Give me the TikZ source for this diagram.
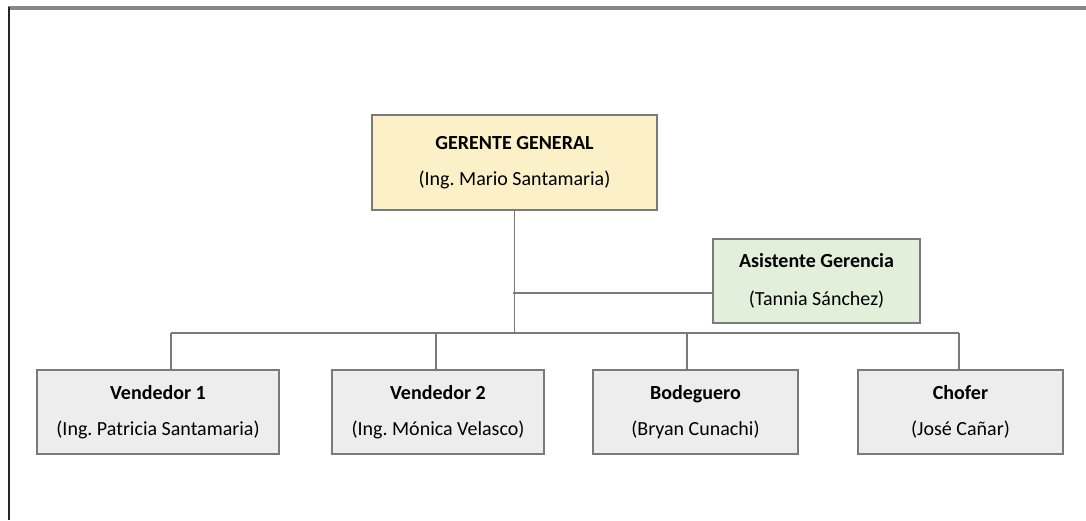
\documentclass[tikz,border=0pt]{standalone}
\usepackage{fontspec}
\setmainfont{Carlito}
\usepackage{xcolor}
\usepackage{tikz}
\usetikzlibrary{positioning,calc}
\definecolor{jefeYellow}{HTML}{FCF0C9}
\definecolor{asisGreen}{HTML}{E2EFDA}
\definecolor{cargoGray}{HTML}{EDEDED}
\definecolor{lineGray}{HTML}{7A7A7A}
\frenchspacing

\begin{document}
\begin{tikzpicture}[
    x=0.5pt, y=-0.5pt,
    cargo/.style={draw=lineGray, line width=1pt, fill=cargoGray, align=center, minimum height=42pt, inner sep=0pt, font=\fontsize{10}{18}\selectfont},
    link/.style={draw=lineGray, line width=0.8pt}
  ]
  \useasboundingbox (0,0) rectangle (1086,520);
  % marco
  \draw[lineGray!90, line width=2pt] (8,7.5) -- (1086,7.5);
  \draw[black!85, line width=1.2pt] (9,6.5) -- (9,520);

  \node[cargo, fill=jefeYellow, minimum width=142.5pt, minimum height=47.5pt] (gg) at (514.5,162.5) {\textbf{GERENTE GENERAL}\\(Ing. Mario Santamaria)};
  \node[cargo, fill=asisGreen, minimum width=103.5pt, font=\fontsize{10}{19}\selectfont] (asis) at (816.5,281) {\textbf{Asistente Gerencia}\\(Tannia Sánchez)};

  \node[cargo, minimum width=121pt]   (v1)  at (158,412)   {\textbf{Vendedor 1}\\(Ing. Patricia Santamaria)};
  \node[cargo, minimum width=106pt]   (v2)  at (438,412)   {\textbf{Vendedor 2}\\(Ing. Mónica Velasco)};
  \node[cargo, minimum width=102.5pt] (bod) at (695.5,412) {\textbf{Bodeguero}\\(Bryan Cunachi)};
  \node[cargo, minimum width=102.5pt] (cho) at (960.5,412) {\textbf{Chofer}\\(José Cañar)};

  \coordinate (ag) at (513,293);
  \coordinate (bus) at (513,333);
  \coordinate (j1) at (171,333);
  \coordinate (j2) at (436,333);
  \coordinate (j3) at (687,333);
  \coordinate (j4) at (959,333);

  \draw[link] (gg.south) -- (gg.south |- bus);
  \draw[link] (ag) -- (ag -| asis.west);
  \draw[link] (j1) -- (j4);
  \draw[link] (j1) -- (j1 |- v1.north);
  \draw[link] (j2) -- (j2 |- v2.north);
  \draw[link] (j3) -- (j3 |- bod.north);
  \draw[link] (j4) -- (j4 |- cho.north);
\end{tikzpicture}
\end{document}
